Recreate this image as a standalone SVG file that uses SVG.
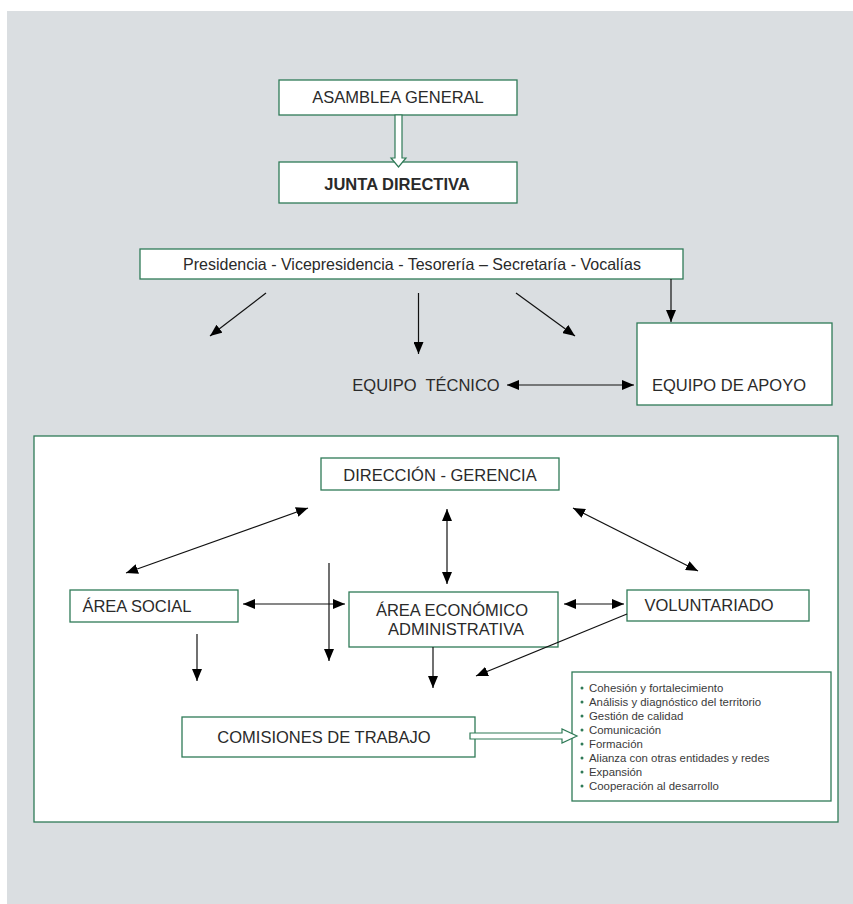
<svg xmlns="http://www.w3.org/2000/svg" width="853" height="904" viewBox="0 0 853 904">
<defs>
<style>
.bx{fill:#fff;stroke:#2f7a57;stroke-width:1.3}
.t{font-family:"Liberation Sans",Arial,sans-serif;font-size:16.5px;fill:#2a2a2a;text-anchor:middle}
.ln{stroke:#111;stroke-width:1.2;fill:none}
.li{font-family:"Liberation Sans",Arial,sans-serif;font-size:11.4px;fill:#3a3a3a}
.bu{fill:#2f7a57}
</style>
<marker id="ah" viewBox="0 0 12 10" refX="12" refY="5" markerWidth="12" markerHeight="10" markerUnits="userSpaceOnUse" orient="auto-start-reverse">
<path d="M0,0 L12,5 L0,10 z" fill="#000"/>
</marker>
</defs>
<rect x="7" y="11" width="846" height="893" fill="#dadee1"/>

<g id="asamblea">
<rect class="bx" x="279" y="80" width="238" height="35"/>
<text class="t" x="398" y="103" font-size="15.2">ASAMBLEA GENERAL</text>
</g>
<g id="junta">
<rect class="bx" x="279" y="162" width="238" height="41"/>
<text class="t" x="397" y="190" font-size="19.2" font-weight="bold" fill="#111">JUNTA DIRECTIVA</text>
</g>
<g id="presidencia">
<rect class="bx" x="140" y="249" width="543" height="30"/>
<text class="t" x="412" y="270" font-size="14.5" textLength="458" lengthAdjust="spacingAndGlyphs">Presidencia - Vicepresidencia - Tesorería – Secretaría - Vocalías</text>
</g>
<g id="equipo-tecnico">
<text class="t" x="426" y="391" font-size="17.2" fill="#111" xml:space="preserve">EQUIPO  TÉCNICO</text>
</g>
<g id="equipo-apoyo">
<rect class="bx" x="637" y="323" width="195" height="82"/>
<text class="t" x="729" y="391" font-size="17">EQUIPO DE APOYO</text>
</g>

<g id="area-box">
<rect class="bx" x="34" y="436" width="804" height="386"/>
</g>
<g id="direccion">
<rect class="bx" x="321" y="458" width="238" height="32"/>
<text class="t" x="440" y="481">DIRECCIÓN - GERENCIA</text>
</g>
<g id="area-social">
<rect class="bx" x="70" y="590" width="168" height="32"/>
<text class="t" x="137" y="612">ÁREA SOCIAL</text>
</g>
<g id="area-economico">
<rect class="bx" x="349" y="592" width="209" height="55"/>
<text class="t" x="452" y="616" font-size="17">ÁREA ECONÓMICO</text>
<text class="t" x="456" y="635" font-size="17">ADMINISTRATIVA</text>
</g>
<g id="voluntariado">
<rect class="bx" x="627" y="590" width="182" height="31"/>
<text class="t" x="709" y="611" font-size="18">VOLUNTARIADO</text>
</g>
<g id="comisiones">
<rect class="bx" x="182" y="717" width="293" height="40"/>
<text class="t" x="324" y="743">COMISIONES DE TRABAJO</text>
</g>
<g id="lista">
<rect class="bx" x="572" y="672" width="259" height="129"/>
<g class="bu">
<circle cx="582" cy="688" r="1.5"/><circle cx="582" cy="702" r="1.5"/><circle cx="582" cy="716" r="1.5"/><circle cx="582" cy="730" r="1.5"/><circle cx="582" cy="744" r="1.5"/><circle cx="582" cy="758" r="1.5"/><circle cx="582" cy="772" r="1.5"/><circle cx="582" cy="786" r="1.5"/>
</g>
<text class="li" x="589" y="692">Cohesión y fortalecimiento</text>
<text class="li" x="589" y="706">Análisis y diagnóstico del territorio</text>
<text class="li" x="589" y="720">Gestión de calidad</text>
<text class="li" x="589" y="734">Comunicación</text>
<text class="li" x="589" y="748">Formación</text>
<text class="li" x="589" y="762">Alianza con otras entidades y redes</text>
<text class="li" x="589" y="776">Expansión</text>
<text class="li" x="589" y="790">Cooperación al desarrollo</text>
</g>

<g id="connectors">
<polygon points="395,115 402,115 402,158 406,158 398.5,167 391,158 395,158" fill="#fff" stroke="#2f7a57" stroke-width="1.2"/>
<line class="ln" x1="266" y1="293" x2="210" y2="336" marker-end="url(#ah)"/>
<line class="ln" x1="418.5" y1="293" x2="418.5" y2="354" marker-end="url(#ah)"/>
<line class="ln" x1="516" y1="293" x2="575" y2="336" marker-end="url(#ah)"/>
<line class="ln" x1="671" y1="279" x2="671" y2="322" marker-end="url(#ah)"/>
<line class="ln" x1="507" y1="385" x2="634" y2="385" marker-start="url(#ah)" marker-end="url(#ah)"/>
<line class="ln" x1="308" y1="508" x2="126" y2="573" marker-start="url(#ah)" marker-end="url(#ah)"/>
<line class="ln" x1="447" y1="509" x2="447" y2="584" marker-start="url(#ah)" marker-end="url(#ah)"/>
<line class="ln" x1="573" y1="508" x2="698" y2="571" marker-start="url(#ah)" marker-end="url(#ah)"/>
<line class="ln" x1="329" y1="563" x2="329" y2="661" marker-end="url(#ah)"/>
<line class="ln" x1="243" y1="604" x2="345" y2="604" marker-start="url(#ah)" marker-end="url(#ah)"/>
<line class="ln" x1="564" y1="604" x2="624" y2="604" marker-start="url(#ah)" marker-end="url(#ah)"/>
<line class="ln" x1="197" y1="634" x2="197" y2="681" marker-end="url(#ah)"/>
<line class="ln" x1="433" y1="647" x2="433" y2="688" marker-end="url(#ah)"/>
<line class="ln" x1="627" y1="614" x2="476" y2="676" marker-end="url(#ah)"/>
<polygon points="470,733 562,733 562,729 577,736 562,743 562,739 470,739" fill="#fff" stroke="#2f7a57" stroke-width="1.2"/>
</g>
</svg>
